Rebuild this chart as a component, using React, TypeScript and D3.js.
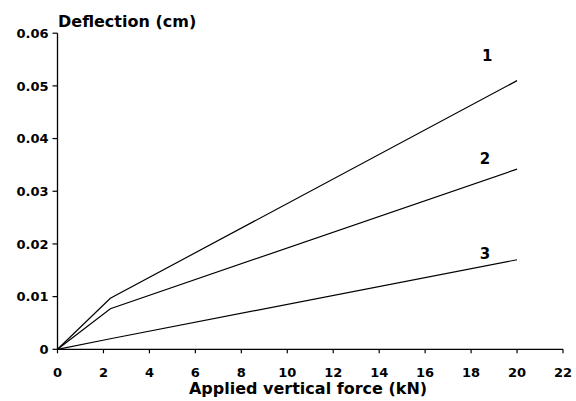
import * as d3 from 'd3'

// force in kN
const force = [0, 2.3, 20]
// deflection in cm for each curve
const series = [
    {id: "1", values: [0, 0.0097, 0.051]},
    {id: "2", values: [0, 0.0077, 0.0342]},
    {id: "3", values: [0, 0.002, 0.017]},
]
const xTicks = [0, 2, 4, 6, 8, 10, 12, 14, 16, 18, 20, 22]
const yTicks = [0, 0.01, 0.02, 0.03, 0.04, 0.05, 0.06]
// where the curve numbers sit (force, deflection)
const labelPos = [
    {id: "1", x: 18.7, y: 0.0548},
    {id: "2", x: 18.6, y: 0.0352},
    {id: "3", x: 18.6, y: 0.0172},
]

export default function App() {
    const width = 576
    const height = 401
    const font = "'DejaVu Sans', Verdana, sans-serif"

    const x = d3.scaleLinear().domain([0, 22]).range([57.5, 563])
    const y = d3.scaleLinear().domain([0, 0.06]).range([349.3, 33.2])

    const line = d3.line<number>()
        .x((d, i) => x(force[i]))
        .y(d => y(d))

    return (
        <div style={{position: "absolute", left: 0, top: 0}}>
            <svg width={width} height={height} style={{background: "white", display: "block"}}>
                {/* axes */}
                <line x1={x(0)} x2={x(0)} y1={y(0)} y2={y(0.06)} stroke="black" strokeWidth={1.3}/>
                <line x1={x(0)} x2={x(22)} y1={y(0)} y2={y(0)} stroke="black" strokeWidth={1.3}/>

                {yTicks.map(t => (
                    <g key={"y" + t}>
                        <line x1={x(0) - 5} x2={x(0)} y1={y(t)} y2={y(t)} stroke="black" strokeWidth={1.2}/>
                        <text x={x(0) - 9} y={y(t)} dy="0.36em" textAnchor="end"
                              fontFamily={font} fontWeight="bold" fontSize={13}>
                            {t === 0 ? "0" : t.toFixed(2)}
                        </text>
                    </g>
                ))}

                {xTicks.map(t => (
                    <g key={"x" + t}>
                        <line x1={x(t)} x2={x(t)} y1={y(0)} y2={y(0) + 4} stroke="black" strokeWidth={1.2}/>
                        <text x={x(t)} y={376.5} textAnchor="middle"
                              fontFamily={font} fontWeight="bold" fontSize={13}>
                            {t}
                        </text>
                    </g>
                ))}

                <text x={58} y={27} fontFamily={font} fontWeight="bold" fontSize={16}>Deflection (cm)</text>
                <text x={308} y={394} textAnchor="middle" fontFamily={font} fontWeight="bold" fontSize={16}>
                    Applied vertical force (kN)
                </text>

                {series.map(s => (
                    <path key={s.id} d={line(s.values) ?? ""} fill="none" stroke="black" strokeWidth={1.2}/>
                ))}

                {labelPos.map(l => (
                    <text key={"l" + l.id} x={x(l.x)} y={y(l.y)} textAnchor="middle"
                          fontFamily={font} fontWeight="bold" fontSize={15}>
                        {l.id}
                    </text>
                ))}
            </svg>
        </div>
    )
}
